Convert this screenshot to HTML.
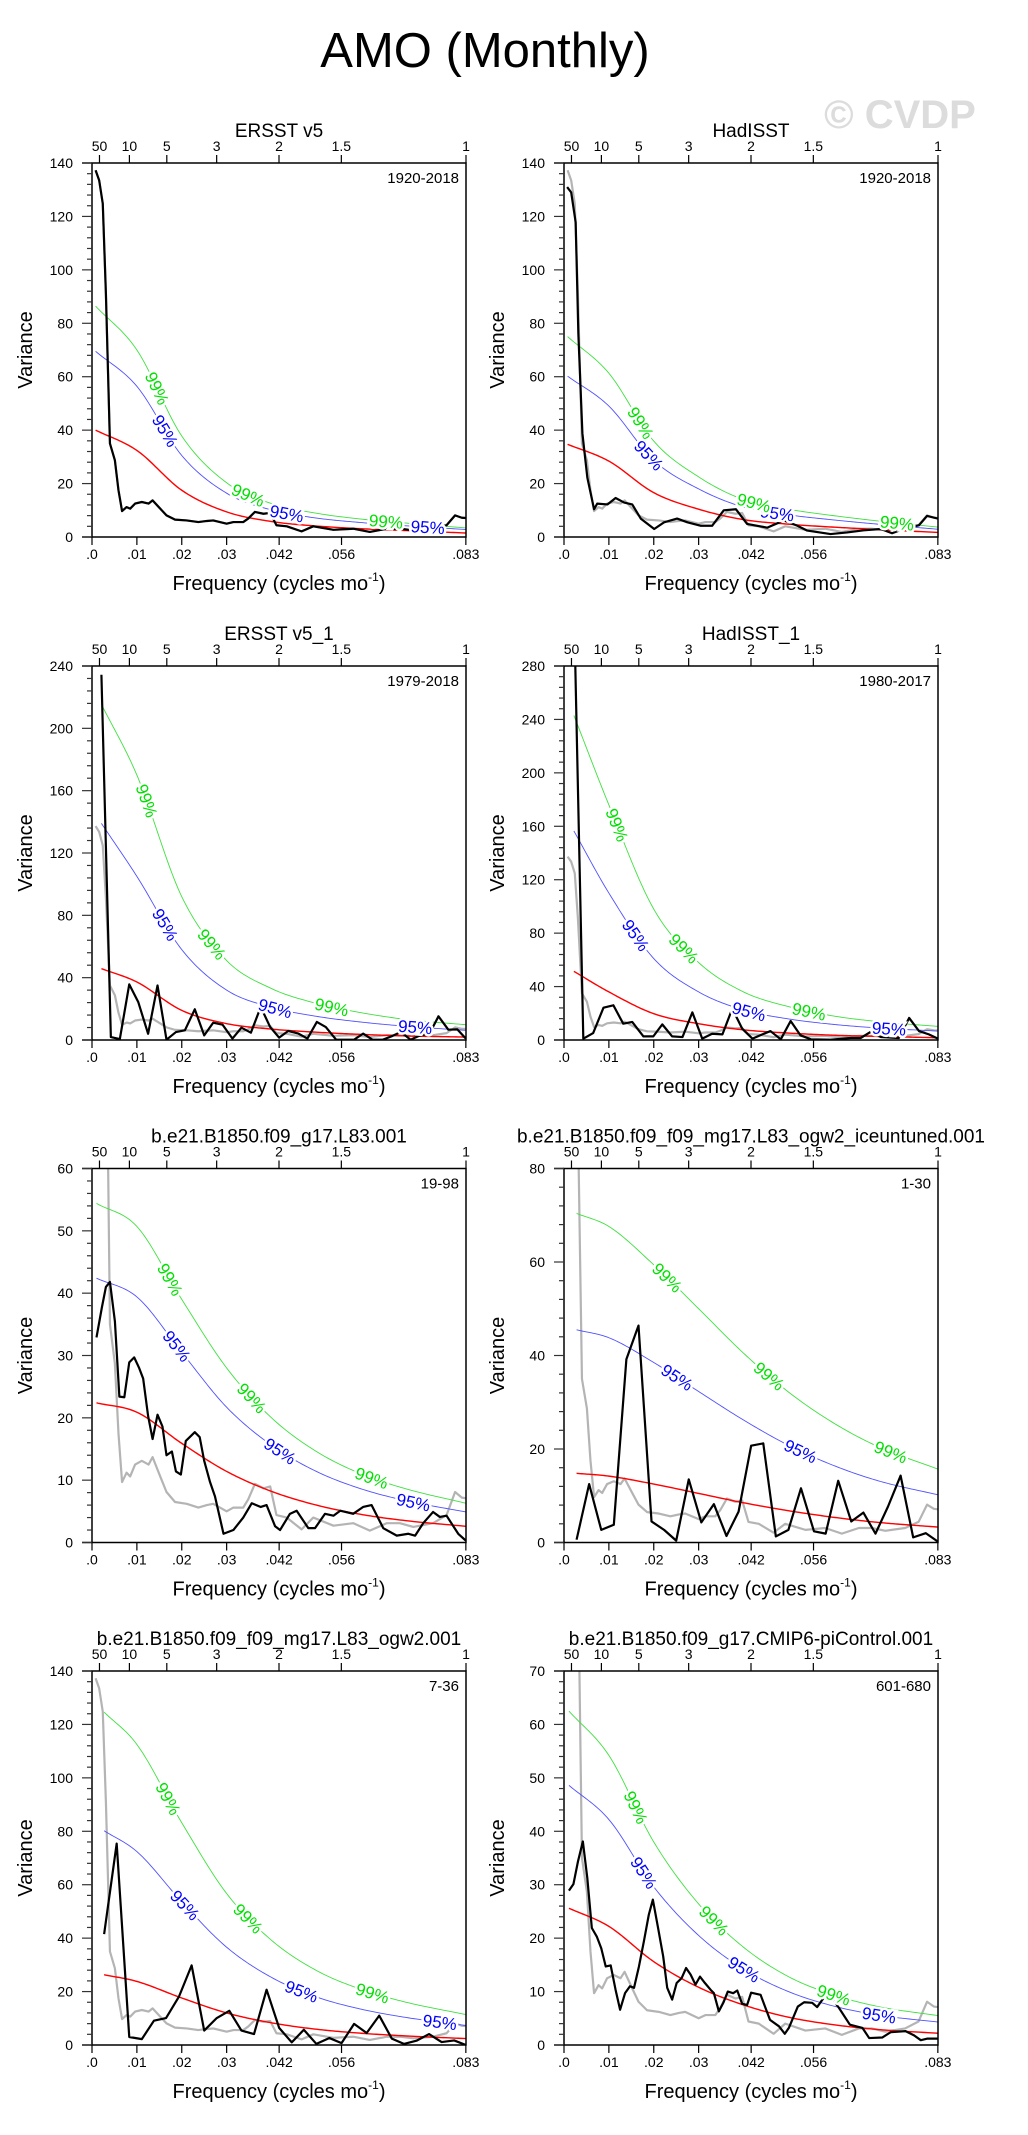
<!DOCTYPE html>
<html><head><meta charset="utf-8"><title>AMO (Monthly)</title>
<style>
html,body{margin:0;padding:0;background:#fff;}
svg{display:block;font-family:"Liberation Sans",Arial,sans-serif;}
</style></head>
<body>
<svg id="fig" width="1028" height="2135" viewBox="0 0 1028 2135" xmlns="http://www.w3.org/2000/svg">
<rect x="0" y="0" width="1028" height="2135" fill="#fff"/>
<text x="485" y="67" font-size="49" text-anchor="middle" fill="#000">AMO (Monthly)</text>
<text x="900" y="128" font-size="40" font-weight="bold" text-anchor="middle" fill="#dcdcdc">© CVDP</text>
</svg>
<script>
// ---- shared data ----
var fmax = 1/12;
var confFreq = [0.01,0.02,0.03,0.04,0.05,0.06,0.07,0.0833];
var xTickVals = [0,0.01,0.02,0.03,0.0417,0.0556,0.0833];
var xTickLabels = [".0",".01",".02",".03",".042",".056",".083"];
var periodTicks = [50,10,5,3,2,1.5,1];
var periodLabels = ["50","10","5","3","2","1.5","1"];

// ERSST v5 reference spectrum (gray, shown in every panel)
var refF = [.0008,.0016,.0024,.0031,.004,.0051,.0059,.0067,.0077,.0085,.0096,.0111,.0126,.0135,.0152,.0166,.0185,.0211,.0237,.0256,.027,.03,.0315,.0337,.0348,.0363,.0382,.0397,.0411,.0434,.0467,.0493,.0538,.0582,.0619,.0657,.0686,.0716,.076,.079,.0809,.0824,.0833];
var refV = [137.3,133.5,124.8,91,35,28.7,17.5,9.7,11.2,10.6,12.5,13.1,12.5,13.7,10.6,8.1,6.5,6.2,5.6,6,6.2,5,5.6,5.6,6.9,9.4,8.7,9,4.4,4,2.1,4,2.7,3.1,1.9,3.1,3.1,2.5,3.1,4.4,8.1,7.2,7.1];

var titles = ["ERSST v5","HadISST","ERSST v5_1","HadISST_1","b.e21.B1850.f09_g17.L83.001","b.e21.B1850.f09_f09_mg17.L83_ogw2_iceuntuned.001","b.e21.B1850.f09_f09_mg17.L83_ogw2.001","b.e21.B1850.f09_g17.CMIP6-piControl.001"];
var periods = ["1920-2018","1920-2018","1979-2018","1980-2017","19-98","1-30","7-36","601-680"];
var yMax = [140,140,240,280,60,80,140,70];
var yMajor = [20,20,40,40,10,20,20,10];
var startF = [0.0008,0.0008,0.0021,0.0022,0.001,0.0028,0.0027,0.0011];

// black spectra
var specF1 = refF;
var specV1 = refV;
var specF2 = [.0007,.0016,.0026,.0032,.0041,.0052,.0067,.0074,.0097,.0115,.0134,.0152,.0171,.0201,.0223,.0252,.0275,.0305,.033,.0356,.0383,.0408,.0453,.049,.052,.0542,.0594,.0631,.0668,.0706,.0731,.0765,.0791,.0809,.0833];
var specV2 = [131,129,117.8,76,38.8,22.2,10.4,12.5,12.2,14.6,12.9,12.2,6.9,3,5.5,6.9,5.5,4.2,4.2,10,10.4,4.9,3.5,6.2,4.2,2.4,1.1,1.7,2.5,3,1.4,3.5,4.4,7.9,6.9];
var specF3 = [.0021,.0042,.0062,.0083,.0103,.0125,.0146,.0166,.0187,.0207,.0229,.025,.027,.0291,.0313,.0333,.0354,.0376,.0397,.0417,.0437,.046,.048,.0501,.0521,.0544,.0564,.0584,.0604,.0625,.0648,.0668,.0688,.071,.0731,.0752,.0772,.0794,.0814,.0833];
var specV3 = [234.4,1.9,0.6,35.7,24.4,4,35,0.2,5.1,6.2,19.7,3,11.1,9.8,0.9,7.9,4.7,21.2,8.3,1.5,5.8,4.1,0.9,11.6,8.3,0.2,0.2,0.2,4.1,0.2,0.2,2.4,5.1,0.2,3,4.1,15.2,6.6,6.8,0.9];
var specF4 = [.0022,.0043,.0065,.0088,.011,.0132,.0152,.0177,.0199,.0219,.0241,.0264,.0286,.0308,.033,.0353,.0375,.0397,.042,.0442,.046,.0483,.0505,.0527,.055,.0594,.0639,.0661,.0683,.0706,.0746,.0769,.0791,.0813,.0833];
var specV4 = [330,1,5.2,24.2,26,12.2,13.5,2.7,2.7,11.7,2.7,2.2,20.7,1,4.7,4.2,23.5,8.5,1,4.2,6.7,0.5,14.2,3.5,0.5,0.2,1.5,1.5,6,2.2,1.5,16.5,6.7,4.2,1];
var specF5 = [.001,.0022,.0031,.004,.0051,.0061,.0072,.0083,.0094,.0105,.0114,.0125,.0135,.0146,.0157,.0166,.0178,.0187,.0198,.0209,.0229,.024,.025,.0263,.0274,.0293,.0315,.0337,.0356,.0376,.0389,.0408,.0419,.0441,.0456,.0482,.0497,.0519,.0538,.0553,.0582,.0604,.0623,.0649,.0679,.0705,.072,.0738,.076,.0775,.079,.0816,.0833];
var specV5 = [32.9,37.7,41,41.8,35.5,23.4,23.3,28.9,29.7,28,26.3,20.3,16.6,20.5,18.6,14,14.6,11.4,10.9,16.3,17.7,16.9,13.1,9.7,7.4,1.4,2,4,6.3,5.7,6,2.6,2,4.6,5.1,2.3,2.3,4.6,4.3,5.1,4.6,5.7,6,2.3,1.1,1.4,1.1,3.1,4.9,4.1,4.3,1.4,0.3];
var specF6 = [.0028,.0056,.0083,.0111,.0139,.0166,.0195,.0223,.025,.0278,.0306,.0334,.0362,.0389,.0417,.0444,.0472,.05,.0528,.0557,.0583,.0611,.064,.0667,.0694,.0722,.075,.0778,.0806,.0833];
var specV6 = [0.6,12.5,2.7,3.8,39.2,46.4,4.5,2.7,0.4,13.5,4.3,8.2,1.4,6.6,20.7,21.2,1.3,2.7,11.6,2.4,1.9,13.2,4.5,6.4,1.9,7.7,14.3,1.1,2,0.2];
var specF7 = [.0027,.0055,.0083,.0111,.0138,.0165,.0194,.0222,.025,.0278,.0306,.0333,.0361,.0389,.0417,.0445,.0472,.05,.0529,.0556,.0584,.0612,.064,.0668,.0695,.0723,.0751,.0779,.0807,.0833];
var specV7 = [41.5,75.4,3,2.2,9.1,10.1,18.2,29.8,5.4,10.1,12.8,5.4,4.1,20.7,6.4,1,5.7,0.4,2.6,0.7,7.9,4.5,11,2.4,0.4,1.6,4.1,1.1,1.7,0];
var specF8 = [.0011,.0021,.0031,.0042,.0052,.0062,.0073,.0083,.0093,.0104,.0115,.0125,.0136,.0147,.0156,.0167,.0178,.0189,.0198,.0209,.0221,.023,.0241,.0251,.0262,.0272,.0282,.0293,.0303,.0314,.0327,.0334,.0345,.0355,.0365,.0377,.0386,.0397,.0408,.0417,.0438,.0459,.0479,.0492,.0501,.0521,.0535,.0553,.0564,.0581,.0596,.0613,.0637,.0665,.068,.0709,.0728,.0761,.078,.0795,.081,.0833];
var specV8 = [28.9,30.1,34.3,38.1,31.2,21.9,20.3,18.1,14.7,14.9,10.3,6.6,9.7,11,10.7,14.7,19.4,24.4,27.2,22.2,16.6,10.7,8.5,11.6,12.5,14.4,13.2,11.3,12.8,11.6,10.3,9.7,6.3,7.9,10,9.7,10.2,7.7,7.5,9.8,9.4,4.7,3.5,2.1,3.2,7.2,8,7.9,7.1,9.1,8.9,6.9,3.8,3.2,1.3,1.4,2.4,2.6,1.8,0.9,1.2,1.2];

// red-noise / 95% / 99% curves (values at startF then confFreq)
var red1=[40,32.4,17.5,9.4,5.8,4.1,3.1,2.4,1.5];
var c95_1=[69.5,56.4,30.5,16.4,10.1,7.1,5.4,4.2,2.8];
var c99_1=[86.4,70,37.8,20.3,12.5,8.9,6.7,5.2,3.4];
var red2=[34.7,28.4,16.6,10.4,6.5,4.8,3.7,2.8,1.7];
var c95_2=[60.2,49,28.7,18,11.2,8.3,6.4,4.8,2.9];
var c99_2=[75,61.3,35.9,22.5,14,10.4,8,6,3.7];
var red3=[45.8,37.2,19,10.5,7,5,3.6,2.6,1.9];
var c95_3=[139,105,58,32,21,15.2,11.5,8.8,6.2];
var c99_3=[215.4,170,92,51,33,23.5,17.5,13.2,9.8];
var red4=[51.4,36,19.7,12.2,7.6,5.2,3.6,2.7,1.7];
var c95_4=[156.5,110,61,36,22.5,15.8,11.7,9,6.7];
var c99_4=[243,176,98,58,36,25,18,13.8,10.2];
var red5=[22.4,20.9,15.9,11.4,8.2,6,4.5,3.5,2.6];
var c95_5=[42.4,39.4,30.5,21.7,15.6,11.4,8.6,6.7,4.9];
var c99_5=[54.4,50.7,39,28,20,14.6,11,8.6,6.3];
var red6=[14.8,14.2,12.5,10.5,8.5,6.8,5.4,4.3,3.3];
var c95_6=[45.5,43.8,38.5,32.3,26.2,20.8,16.5,13.2,10.2];
var c99_6=[70.4,67.6,59.4,50,40.5,32.2,25.6,20.5,15.7];
var red7=[26.3,23.8,17.6,12,8.3,5.9,4.4,3.4,2.4];
var c95_7=[80.2,72.4,53.6,36.6,25.3,18,13.4,10.3,7.3];
var c99_7=[124.6,112.5,83.2,56.7,39.2,27.9,20.8,16,11.4];
var red8=[25.6,22.2,15.6,10.8,7.5,5.2,3.8,2.9,2.2];
var c95_8=[48.6,42.2,29.6,20.5,14.2,10,7.3,5.6,4.3];
var c99_8=[62.5,54.2,38,26.4,18.3,12.8,9.4,7.2,5.5];

// label positions (frequency) along curves
var lab99 = [[.0145,.0348,.0655],[.0171,.0423,.0742],[.0122,.0267,.0534],[.0118,.0267,.0546],[.0174,.0356,.0623],[.023,.0457,.0728],[.017,.0348,.0625],[.016,.0334,.0601]];
var lab95 = [[.0163,.0434,.0748],[.0189,.0475],[.0163,.0408,.072],[.016,.0412,.0724],[.0189,.0419,.0716],[.0252,.0527],[.0207,.0467,.0775],[.0178,.0401,.0702]];

var specF=[specF1,specF2,specF3,specF4,specF5,specF6,specF7,specF8];
var specV=[specV1,specV2,specV3,specV4,specV5,specV6,specV7,specV8];
var reds=[red1,red2,red3,red4,red5,red6,red7,red8];
var c95s=[c95_1,c95_2,c95_3,c95_4,c95_5,c95_6,c95_7,c95_8];
var c99s=[c99_1,c99_2,c99_3,c99_4,c99_5,c99_6,c99_7,c99_8];

var NS="http://www.w3.org/2000/svg";
var svg=document.getElementById("fig");
var W=374,H=374;
var colL=[92,564], rowT=[163,666,1168.5,1671];

function mk(tag,attrs,parent){var e=document.createElementNS(NS,tag);for(var k in attrs)e.setAttribute(k,attrs[k]);(parent||svg).appendChild(e);return e;}

// monotone cubic (Fritsch-Carlson) dense sampling
function smooth(pts){
  var n=pts.length,d=[],m=[];
  for(var i=0;i<n-1;i++)d.push((pts[i+1][1]-pts[i][1])/(pts[i+1][0]-pts[i][0]));
  m[0]=d[0];m[n-1]=d[n-2];
  for(var i=1;i<n-1;i++){m[i]=(d[i-1]*d[i]<=0)?0:(d[i-1]+d[i])/2;}
  for(var i=0;i<n-1;i++){
    if(d[i]===0){m[i]=0;m[i+1]=0;continue;}
    var a=m[i]/d[i],b=m[i+1]/d[i],s=a*a+b*b;
    if(s>9){var t=3/Math.sqrt(s);m[i]=t*a*d[i];m[i+1]=t*b*d[i];}
  }
  var out=[];
  for(var i=0;i<n-1;i++){
    var x0=pts[i][0],x1=pts[i+1][0],h=x1-x0,y0=pts[i][1],y1=pts[i+1][1];
    for(var s=0;s<24;s++){var t=s/24,t2=t*t,t3=t2*t;
      var y=(2*t3-3*t2+1)*y0+(t3-2*t2+t)*h*m[i]+(-2*t3+3*t2)*y1+(t3-t2)*h*m[i+1];
      out.push([x0+t*h,y]);}
  }
  out.push(pts[n-1]);return out;
}
function yAt(dense,x){for(var i=0;i<dense.length-1;i++){if(dense[i][0]<=x&&dense[i+1][0]>=x){var t=(x-dense[i][0])/((dense[i+1][0]-dense[i][0])||1);return dense[i][1]+t*(dense[i+1][1]-dense[i][1]);}}return dense[dense.length-1][1];}
function pathOf(pts){return pts.map(function(p,i){return (i?"L":"M")+p[0].toFixed(2)+","+p[1].toFixed(2);}).join("");}

for(var p=0;p<8;p++){
  var L=colL[p%2], T=rowT[Math.floor(p/2)], B=T+H, R=L+W;
  var ym=yMax[p];
  var xs=(function(L){return function(f){return L+f/fmax*W;};})(L);
  var ys=(function(B,ym){return function(v){return B-v/ym*H;};})(B,ym);
  var g=mk("g",{});
  
  
  var cid="clip"+p;
  var cp=mk("clipPath",{id:cid},g); mk("rect",{x:L,y:T,width:W,height:H},cp);

  var tt=mk("text",{x:L+W/2,y:T-26,"font-size":19,"text-anchor":"middle"},g); tt.textContent=titles[p];
  
  
  var pt=mk("text",{x:R-7,y:T+20,"font-size":15,"text-anchor":"end"},g); pt.textContent=periods[p];
  
  

  var cg=mk("g",{"clip-path":"url(#"+cid+")"},g);
  var gp=refF.map(function(f,i){return [xs(f),ys(refV[i])];});
  var gl=mk("path",{d:pathOf(gp),fill:"none",stroke:"#b4b4b4","stroke-width":2.2,"stroke-linejoin":"round"},cg);
  
  

  var freqs=[startF[p]].concat(confFreq);
  var sets=[[reds[p],"#ff0000",1.4,"red-noise-line"],[c95s[p],"#5050ff",0.9,"conf95-line"],[c99s[p],"#40e040",0.9,"conf99-line"]];
  var denses=[];
  sets.forEach(function(s){
    var pts=freqs.map(function(f,i){return [xs(f),ys(s[0][i])];});
    var d=smooth(pts); denses.push(d);
    var el=mk("path",{d:pathOf(d),fill:"none",stroke:s[1],"stroke-width":s[2]},cg);
    
    
  });

  var bp=specF[p].map(function(f,i){return [xs(f),ys(specV[p][i])];});
  var bl=mk("path",{d:pathOf(bp),fill:"none",stroke:"#000","stroke-width":2.2,"stroke-linejoin":"round"},cg);
  
  

  [[lab95[p],denses[1],"#0000ff","95%"],[lab99[p],denses[2],"#00e000","99%"]].forEach(function(ls){
    ls[0].forEach(function(f){
      var x=xs(f), y=yAt(ls[1],x);
      var ang=Math.atan2(yAt(ls[1],x+6)-yAt(ls[1],x-6),12)*180/Math.PI;
      var t=mk("text",{x:x,y:y+6,"font-size":17,"text-anchor":"middle",fill:ls[2],stroke:"#fff","stroke-width":5,"paint-order":"stroke",transform:"rotate("+ang.toFixed(1)+" "+x.toFixed(1)+" "+y.toFixed(1)+")"},g);
      t.textContent=ls[3];
      
      
    });
  });

  var fr=mk("rect",{x:L,y:T,width:W,height:H,fill:"none",stroke:"#000","stroke-width":1.5},g);
  
  
  mk("line",{x1:L-10,y1:T,x2:L,y2:T,stroke:"#000","stroke-width":1.5},g);
  mk("line",{x1:L-10,y1:B,x2:L,y2:B,stroke:"#000","stroke-width":1.5},g);

  var minor=yMajor[p]/5;
  for(var v=0;v<=ym+1e-9;v+=minor){
    var isMaj=Math.abs(v/yMajor[p]-Math.round(v/yMajor[p]))<1e-6;
    var yy=ys(v);
    mk("line",{x1:L-(isMaj?10:5),y1:yy,x2:L,y2:yy,stroke:"#333","stroke-width":1.2},g);
    if(isMaj){var yl=mk("text",{x:L-19,y:yy+5,"font-size":14,"text-anchor":"end"},g);yl.textContent=Math.round(v);
      
      }
  }
  xTickVals.forEach(function(f,i){
    var xx=xs(f);
    mk("line",{x1:xx,y1:B,x2:xx,y2:B+8,stroke:"#000","stroke-width":1.2},g);
    var xl=mk("text",{x:xx,y:B+22,"font-size":14,"text-anchor":"middle"},g);xl.textContent=xTickLabels[i];
    
    
  });
  periodTicks.forEach(function(P,i){
    var xx=xs(1/(12*P));
    mk("line",{x1:xx,y1:T,x2:xx,y2:T-8,stroke:"#000","stroke-width":1.2},g);
    var tl=mk("text",{x:xx,y:T-12,"font-size":14,"text-anchor":"middle"},g);tl.textContent=periodLabels[i];
    
    
  });
  var xt=mk("text",{x:L+W/2,y:B+53,"font-size":20,"text-anchor":"middle"},g);
  xt.innerHTML='Frequency (cycles mo<tspan font-size="12" dy="-9">-1</tspan><tspan dy="9">)</tspan>';
  
  
  var vx=(p%2===0)?32:504, vy=T+H/2;
  var yt=mk("text",{x:vx,y:vy,"font-size":20,"text-anchor":"middle",transform:"rotate(-90 "+vx+" "+vy+")"},g);
  yt.textContent="Variance";
  
  
}
</script>
</body></html>
